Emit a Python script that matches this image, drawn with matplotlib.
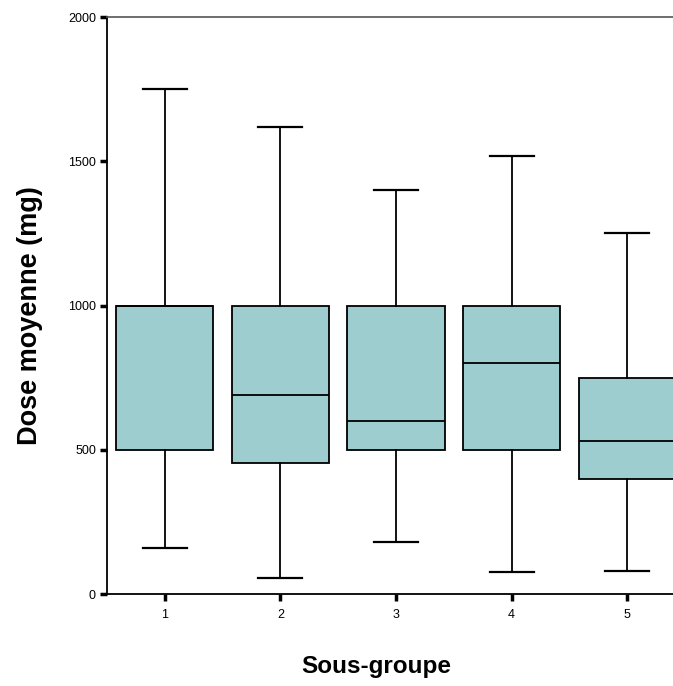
import matplotlib
matplotlib.use('Agg')
import matplotlib.pyplot as plt

# Valeurs (mg)
groupes = ['1', '2', '3', '4', '5']
moustache_bas = [160, 55, 180, 75, 80]
q1 = [500, 455, 500, 500, 400]
mediane = [1000, 690, 600, 800, 530]
q3 = [1000, 1000, 1000, 1000, 750]
moustache_haut = [1750, 1620, 1400, 1520, 1250]

plt.rcParams['font.family'] = ['Liberation Sans', 'DejaVu Sans']

fig = plt.figure(figsize=(6.73, 6.86), dpi=100)
ax = fig.add_axes([0.159, 0.134, 0.859, 0.841])

stats = []
for i, g in enumerate(groupes):
    stats.append({'label': g, 'whislo': moustache_bas[i], 'q1': q1[i],
                  'med': mediane[i], 'q3': q3[i], 'whishi': moustache_haut[i],
                  'fliers': []})

ax.bxp(stats, positions=range(1, 6), widths=0.84, capwidths=0.38,
       showfliers=False, patch_artist=True,
       boxprops=dict(facecolor='#9ecdd0', edgecolor='black', linewidth=1.3),
       medianprops=dict(color='black', linewidth=1.3),
       whiskerprops=dict(color='black', linewidth=1.3),
       capprops=dict(color='black', linewidth=1.6))

ax.set_xlim(0.5, 5.5)
ax.set_ylim(0, 2000)
ax.set_yticks([0, 500, 1000, 1500, 2000])
ax.set_xticks(range(1, 6))
ax.set_xticklabels(groupes)

for s in ['left', 'bottom']:
    ax.spines[s].set_linewidth(1.3)
ax.spines['top'].set_color('#555555')
ax.spines['top'].set_linewidth(1.2)
ax.spines['right'].set_visible(False)

ax.tick_params(axis='both', direction='out', length=5, width=2.5,
               labelsize=9, pad=3)
ax.tick_params(axis='x', pad=6)

ax.set_xlabel('Sous-groupe', fontsize=17.5, fontweight='bold')
ax.xaxis.set_label_coords(0.465, -0.106)
ax.set_ylabel('Dose moyenne (mg)', fontsize=19.5, fontweight='bold')
ax.yaxis.set_label_coords(-0.111, 0.482)

fig.savefig('out.png', dpi=100, facecolor='white')
